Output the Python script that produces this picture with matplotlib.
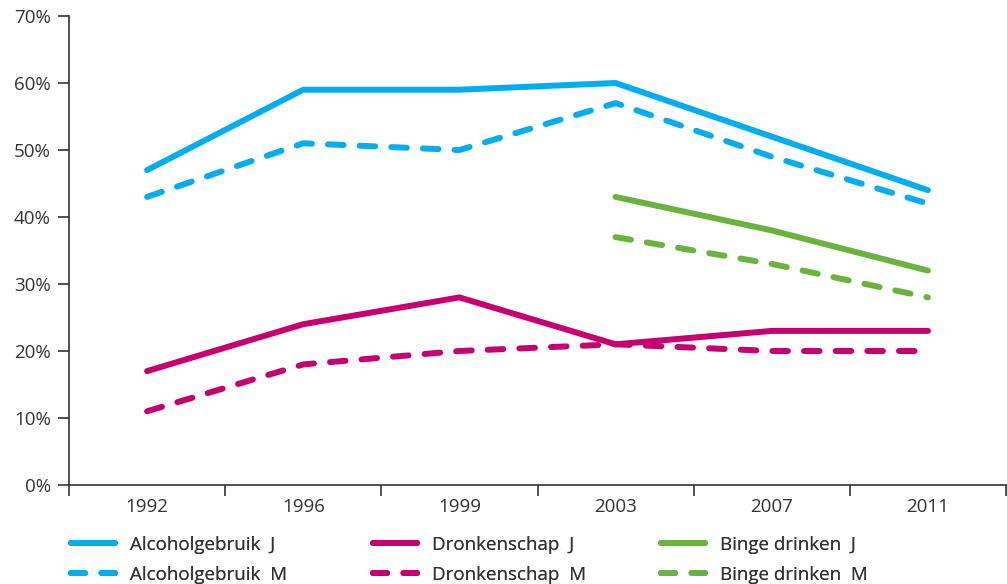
import matplotlib.pyplot as plt
from matplotlib.lines import Line2D
import numpy as np

plt.rcParams['font.family'] = ['Open Sans', 'DejaVu Sans']

years = ["1992", "1996", "1999", "2003", "2007", "2011"]
alcohol_j = [47, 59, 59, 60, 52, 44]
alcohol_m = [43, 51, 50, 57, 49, 42]
dronken_j = [17, 24, 28, 21, 23, 23]
dronken_m = [11, 18, 20, 21, 20, 20]
binge_j = [np.nan, np.nan, np.nan, 43, 38, 32]
binge_m = [np.nan, np.nan, np.nan, 37, 33, 28]

blue = "#00AEEF"
magenta = "#C6006F"
green = "#6AB33E"
grey = "#333333"
fs = 13.5

fig = plt.figure(figsize=(10.07, 5.84), dpi=100)
ax = fig.add_axes([69 / 1007, 1 - 485 / 584, (1006 - 69) / 1007, (485 - 16) / 584])

x = np.arange(len(years))
lw = 4.3
dash = (0, (2.6, 2.7))
leg_dash = (0, (2.35, 2.75))
series = [
    (alcohol_j, blue, "-", "Alcoholgebruik  J"),
    (alcohol_m, blue, dash, "Alcoholgebruik  M"),
    (dronken_j, magenta, "-", "Dronkenschap  J"),
    (dronken_m, magenta, dash, "Dronkenschap  M"),
    (binge_j, green, "-", "Binge drinken  J"),
    (binge_m, green, dash, "Binge drinken  M"),
]
handles = []
for vals, c, ls, lab in series:
    ax.plot(x, vals, color=c, linestyle=ls, linewidth=lw, label=lab,
            solid_capstyle="round", dash_capstyle="round", solid_joinstyle="round")
    handles.append(Line2D([], [], color=c, linewidth=lw, label=lab,
                          linestyle=leg_dash if ls != "-" else "-",
                          solid_capstyle="round", dash_capstyle="round"))

ax.set_xlim(-0.5, len(years) - 0.5)
ax.set_ylim(0, 70)
ax.set_yticks(range(0, 71, 10))
ax.set_yticklabels([f"{v}%" for v in range(0, 71, 10)])
ax.set_xticks(np.arange(-0.5, len(years), 1))
ax.set_xticklabels([])
ax.set_xticks(x, minor=True)
ax.set_xticklabels(years, minor=True)
ax.tick_params(axis="x", which="minor", length=0, pad=9, labelsize=fs, colors=grey)
ax.tick_params(axis="x", which="major", length=8, width=1.2, color=grey)
ax.tick_params(axis="y", length=8, width=1.2, color=grey, pad=5, labelsize=fs, labelcolor=grey)

for s in ["top", "right"]:
    ax.spines[s].set_visible(False)
for s in ["left", "bottom"]:
    ax.spines[s].set_color(grey)
    ax.spines[s].set_linewidth(1.2)

# one legend per column, placed like the reference
col_x = [71, 373, 661]
for i, cx in enumerate(col_x):
    leg = fig.legend(handles=handles[2 * i:2 * i + 2], loc="upper left",
                     bbox_to_anchor=(cx / 1007, 1 - 536 / 584), borderpad=0,
                     borderaxespad=0, frameon=False, fontsize=fs, handlelength=2.35,
                     handletextpad=0.8, labelspacing=0.62, labelcolor=grey)
    fig.add_artist(leg)

fig.savefig("out.png", dpi=100)
